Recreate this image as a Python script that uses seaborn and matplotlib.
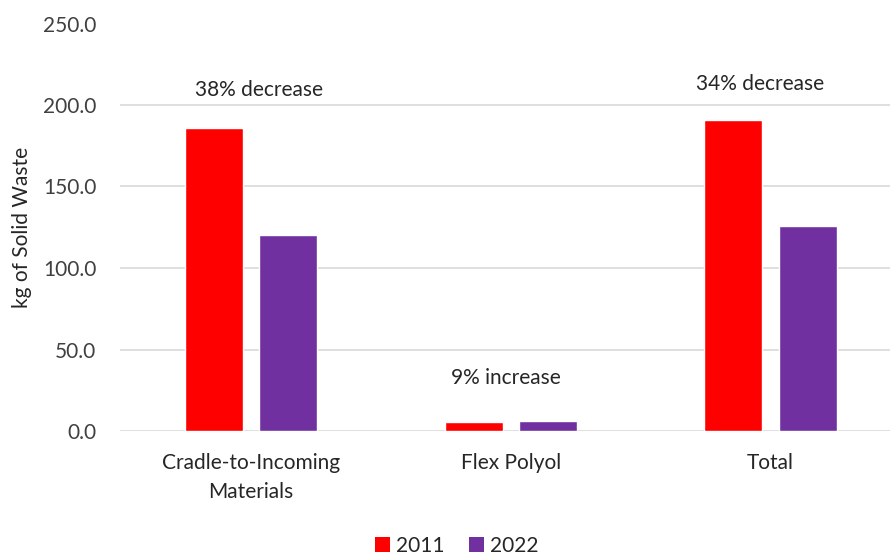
import matplotlib
matplotlib.use("Agg")
import matplotlib.pyplot as plt
import seaborn as sns
import pandas as pd
from matplotlib.patches import Patch

categories = ["Cradle-to-Incoming\nMaterials", "Flex Polyol", "Total"]
years = ["2011", "2022"]
values_2011 = [186.1, 5.3, 191.0]
values_2022 = [120.1, 5.9, 125.6]
change_labels = ["38% decrease", "9% increase", "34% decrease"]
label_y = [209.0, 32.5, 212.6]
label_x = [0.03, 0.98, 1.96]
colors = {"2011": "#FF0000", "2022": "#7030A0"}

df = pd.DataFrame({
    "category": categories * 2,
    "year": [years[0]] * 3 + [years[1]] * 3,
    "value": values_2011 + values_2022,
})

sns.set_theme(style="white")
plt.rcParams["font.family"] = ["Lato", "DejaVu Sans"]
fs = 15

fig = plt.figure(figsize=(8.91, 5.55), dpi=100)
ax = fig.add_axes([120 / 891, 124 / 555, 770 / 891, (431 - 23.5) / 555])

sns.barplot(data=df, x="category", y="value", hue="year", palette=colors,
            width=0.573, gap=0.22, ax=ax, legend=False, saturation=1)

ax.set_ylim(0, 250)
ax.set_xlim(-0.505, 2.46)
ax.set_yticks([0, 50, 100, 150, 200, 250])
ax.set_yticklabels([f"{v:.1f}" for v in [0, 50, 100, 150, 200, 250]],
                   fontsize=fs, color="#404040")
ax.tick_params(axis="x", labelsize=fs, colors="#262626", pad=16, length=0)
ax.tick_params(axis="y", pad=17, length=0)
for lbl in ax.get_xticklabels():
    lbl.set_linespacing(1.55)
ax.yaxis.grid(True, color="#d9d9d9", linewidth=1.2)
ax.set_axisbelow(True)
for s in ax.spines.values():
    s.set_visible(False)
ax.set_xlabel("")
ax.set_ylabel("kg of Solid Waste", fontsize=fs, color="#262626", labelpad=8)

for x, y, t in zip(label_x, label_y, change_labels):
    ax.text(x, y, t, ha="center", va="center", fontsize=fs, color="#262626")

handles = [Patch(facecolor=colors[y], edgecolor="none", label=y) for y in years]
fig.legend(handles=handles, loc="center", bbox_to_anchor=(457 / 891, 1 - 546 / 555),
           ncol=2, frameon=False, fontsize=fs, handlelength=0.7, handleheight=0.7,
           handletextpad=0.3, columnspacing=1.2, labelcolor="#262626")

fig.savefig("out.png", dpi=100)
